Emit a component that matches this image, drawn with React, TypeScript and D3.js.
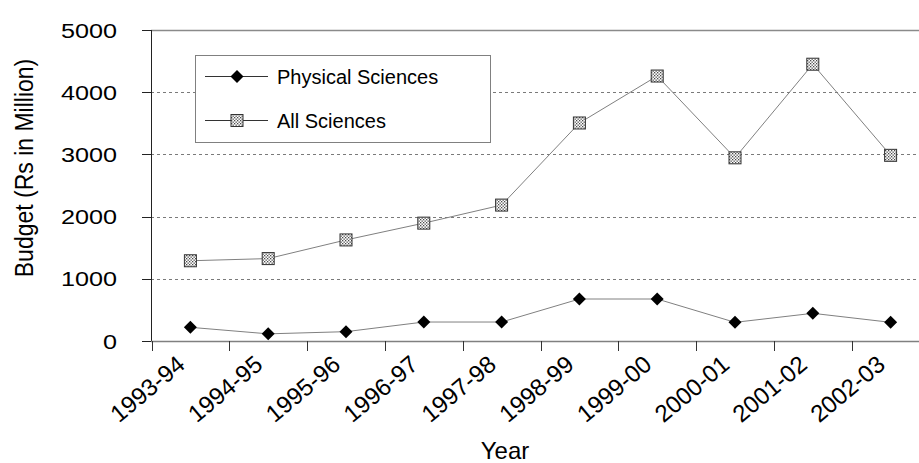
import React from "react";
import * as d3 from "d3";

const years = ["1993-94", "1994-95", "1995-96", "1996-97", "1997-98", "1998-99", "1999-00", "2000-01", "2001-02", "2002-03"];
const physicalSciences = [220, 115, 150, 305, 305, 675, 675, 300, 445, 300];
const allSciences = [1290, 1325, 1625, 1895, 2185, 3505, 4260, 2945, 4450, 2985];
const yTicks = [0, 1000, 2000, 3000, 4000, 5000];

const W = 919;
const H = 463;
const FONT = "'Liberation Sans', Arial, sans-serif";

export default function App() {
  const x = d3.scaleBand<string>().domain(years).range([151.5, 929.5]);
  const y = d3.scaleLinear().domain([0, 5000]).range([341, 30]);
  const cx = (c: string) => (x(c) as number) + x.bandwidth() / 2;

  const line = d3
    .line<number>()
    .x((_, i) => cx(years[i]))
    .y((v) => y(v));

  const diamond = (px: number, py: number, r: number) =>
    `M${px},${py - r}L${px + r},${py}L${px},${py + r}L${px - r},${py}Z`;

  const boundaries = years.map((c) => x(c) as number).concat([(x(years[years.length - 1]) as number) + x.bandwidth()]);

  return (
    <svg width={W} height={H} style={{ position: "fixed", left: 0, top: 0, background: "#fff" }}>
      <defs>
        <pattern id="hatch" width="3" height="3" patternUnits="userSpaceOnUse">
          <rect width="3" height="3" fill="#ffffff" />
          <rect x="0" y="0" width="1.3" height="1.3" fill="#4a4a4a" />
          <rect x="1.5" y="1.5" width="1.3" height="1.3" fill="#4a4a4a" />
        </pattern>
      </defs>
      <rect width={W} height={H} fill="#fff" />

      {/* gridlines */}
      {yTicks.slice(1, -1).map((t) => (
        <line key={t} x1={151} x2={W} y1={Math.round(y(t)) + 0.5} y2={Math.round(y(t)) + 0.5} stroke="#7a7a7a" strokeWidth={1} strokeDasharray="3,3" />
      ))}
      <line x1={151} x2={W} y1={30.5} y2={30.5} stroke="#8a8a8a" strokeWidth={1.5} />

      {/* y axis */}
      <line x1={151.5} x2={151.5} y1={30} y2={341} stroke="#222" strokeWidth={1} />
      {yTicks.map((t) => (
        <g key={t}>
          <line x1={142} x2={151} y1={Math.round(y(t)) + 0.5} y2={Math.round(y(t)) + 0.5} stroke="#222" />
          <text
            transform={`translate(117,${y(t) + 7.5}) scale(1.2,1)`}
            textAnchor="end"
            fontFamily={FONT}
            fontSize={21}
            fill="#000"
          >
            {t}
          </text>
        </g>
      ))}

      {/* x axis */}
      <line x1={151} x2={W} y1={341.5} y2={341.5} stroke="#808080" strokeWidth={1.5} />
      {boundaries.map((b, i) => (
        <line key={i} x1={Math.round(b) + 0.5} x2={Math.round(b) + 0.5} y1={341} y2={351} stroke="#333" />
      ))}
      {years.map((c) => (
        <text
          key={c}
          transform={`translate(${cx(c) - 4},${367}) rotate(-40)`}
          textAnchor="end"
          fontFamily={FONT}
          fontSize={24}
          fill="#000"
        >
          {c}
        </text>
      ))}

      {/* series */}
      <path d={line(allSciences) || ""} fill="none" stroke="#808080" strokeWidth={1} />
      <path d={line(physicalSciences) || ""} fill="none" stroke="#808080" strokeWidth={1} />
      {allSciences.map((v, i) => (
        <rect key={i} x={cx(years[i]) - 6} y={y(v) - 6} width={12} height={12} fill="url(#hatch)" stroke="#333" strokeWidth={1} />
      ))}
      {physicalSciences.map((v, i) => (
        <path key={i} d={diamond(cx(years[i]), y(v), 6.5)} fill="#000" />
      ))}

      {/* legend */}
      <rect x={195.5} y={55.5} width={295} height={87} fill="#fff" stroke="#808080" strokeWidth={1} />
      <line x1={205} x2={268} y1={76.5} y2={76.5} stroke="#333" />
      <path d={diamond(237, 76.5, 6.5)} fill="#000" />
      <text x={277} y={84} fontFamily={FONT} fontSize={20} fill="#000">Physical Sciences</text>
      <line x1={205} x2={268} y1={120.5} y2={120.5} stroke="#333" />
      <rect x={231} y={114.5} width={12} height={12} fill="url(#hatch)" stroke="#333" />
      <text x={277} y={128} fontFamily={FONT} fontSize={20} fill="#000">All Sciences</text>

      {/* axis titles */}
      <text transform={`translate(33,168) scale(1.12,1) rotate(-90)`} textAnchor="middle" fontFamily={FONT} fontSize={23} fill="#000">
        Budget (Rs in Million)
      </text>
      <text x={505} y={459} textAnchor="middle" fontFamily={FONT} fontSize={24} fill="#000">
        Year
      </text>
    </svg>
  );
}
